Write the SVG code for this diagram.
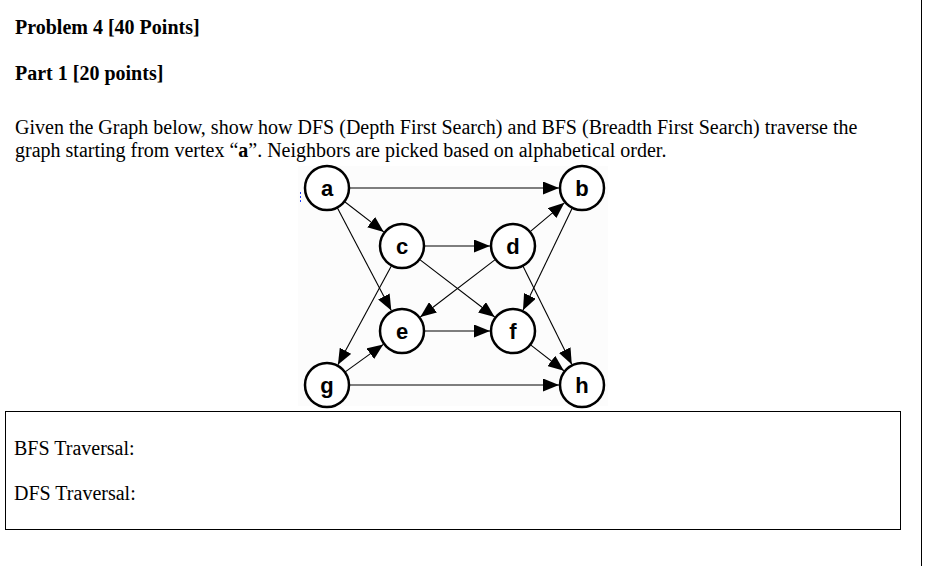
<svg xmlns="http://www.w3.org/2000/svg" width="942" height="566" viewBox="0 0 942 566">
<style>
.t{font-family:"Liberation Serif","Times New Roman",serif;font-size:20px;fill:#000}
.b{font-weight:bold}
.node circle{fill:#fff;stroke:#000;stroke-width:2.5}
.node text{font-family:"Liberation Sans",Arial,sans-serif;font-size:22px;font-weight:bold;text-anchor:middle;fill:#000}
#edges line{stroke:#000;stroke-width:1.1;marker-end:url(#arr)}
</style>
<defs>
<marker id="arr" markerUnits="userSpaceOnUse" markerWidth="17" markerHeight="13" refX="16" refY="6.5" orient="auto">
<path d="M0,0 L16,6.5 L0,13 z" fill="#000"/>
</marker>
</defs>
<rect width="942" height="566" fill="#fff"/>
<line x1="921.5" y1="0" x2="921.5" y2="566" stroke="#000" stroke-width="1"/>
<text class="t b" x="15" y="34">Problem 4 [40 Points]</text>
<text class="t b" x="15" y="80">Part 1 [20 points]</text>
<text class="t" x="15" y="134">Given the Graph below, show how DFS (Depth First Search) and BFS (Breadth First Search) traverse the</text>
<text class="t" x="15" y="157">graph starting from vertex “<tspan class="b">a</tspan>”. Neighbors are picked based on alphabetical order.</text>
<rect x="298" y="166" width="310" height="240" fill="#fcfcfc"/>
<line x1="300.5" y1="192" x2="300.5" y2="203" stroke="#2040ff" stroke-width="1" stroke-dasharray="2,2"/>
<g id="edges">
<line x1="349" y1="188" x2="559" y2="188"/>
<line x1="344.4" y1="201.5" x2="383.8" y2="231.9"/>
<line x1="337.2" y1="207.5" x2="391.3" y2="310.6"/>
<line x1="572.4" y1="207.8" x2="523" y2="310.3"/>
<line x1="424" y1="246" x2="490" y2="246"/>
<line x1="419.5" y1="259.4" x2="494.7" y2="317"/>
<line x1="391.6" y1="265.4" x2="337.9" y2="364.8"/>
<line x1="529.9" y1="231.8" x2="564.4" y2="202.8"/>
<line x1="495.5" y1="259.4" x2="420.3" y2="317"/>
<line x1="522.8" y1="265.7" x2="571.8" y2="364.4"/>
<line x1="424" y1="331" x2="490" y2="331"/>
<line x1="530.3" y1="344.6" x2="563.9" y2="370.8"/>
<line x1="344.9" y1="372.1" x2="383.3" y2="344.4"/>
<line x1="349" y1="385" x2="559" y2="385"/>
</g>
<g id="node-a" class="node"><circle cx="327" cy="188" r="22"/><text x="327" y="196">a</text></g>
<g id="node-b" class="node"><circle cx="582" cy="188" r="22"/><text x="582" y="196">b</text></g>
<g id="node-c" class="node"><circle cx="402" cy="246" r="22"/><text x="402" y="254">c</text></g>
<g id="node-d" class="node"><circle cx="513" cy="246" r="22"/><text x="513" y="254">d</text></g>
<g id="node-e" class="node"><circle cx="402" cy="331" r="22"/><text x="402" y="339">e</text></g>
<g id="node-f" class="node"><circle cx="513" cy="331" r="22"/><text x="513" y="339">f</text></g>
<g id="node-g" class="node"><circle cx="327" cy="385" r="22"/><text x="327" y="393">g</text></g>
<g id="node-h" class="node"><circle cx="582" cy="385" r="22"/><text x="582" y="393">h</text></g>
<rect x="5.5" y="411.5" width="895" height="118" fill="#fff" stroke="#000" stroke-width="1"/>
<text class="t" x="14" y="455">BFS Traversal:</text>
<text class="t" x="14" y="500">DFS Traversal:</text>
</svg>
